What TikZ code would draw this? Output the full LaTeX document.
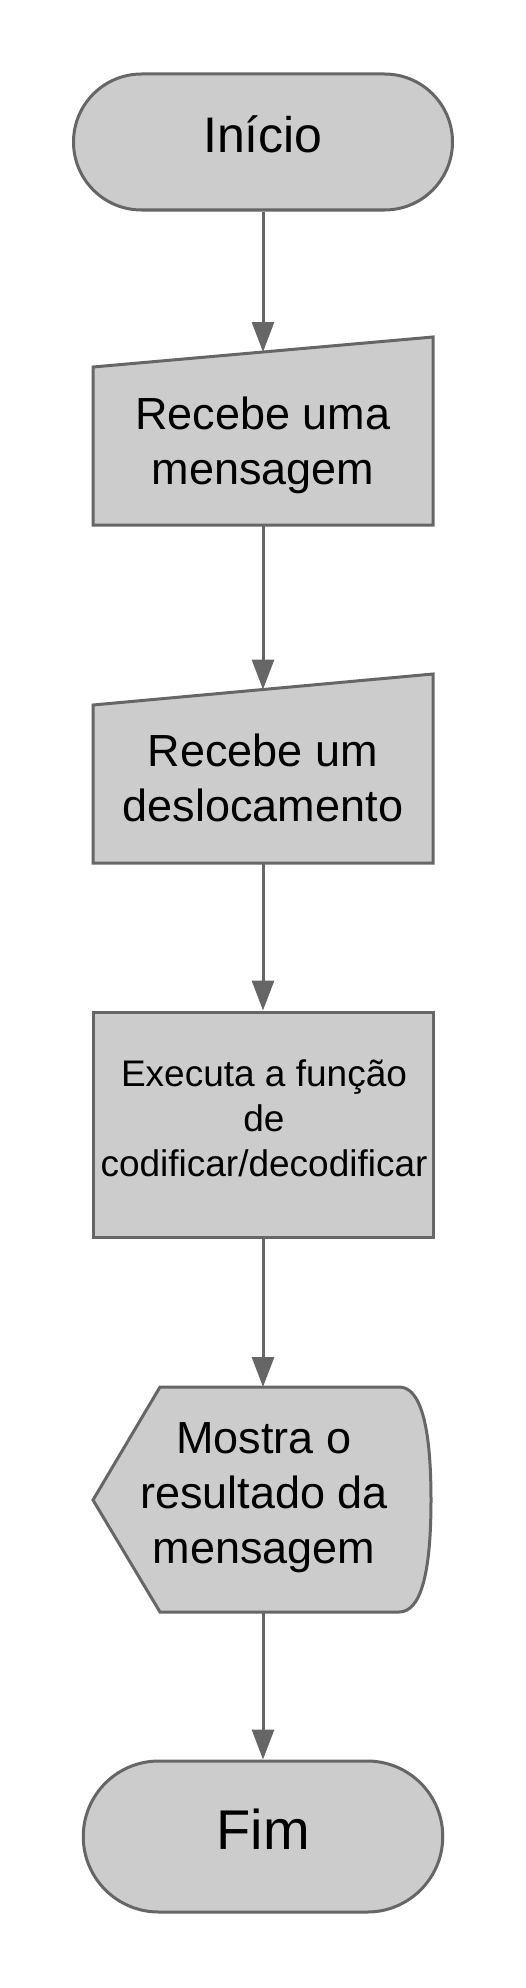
\documentclass[tikz,border=0pt]{standalone}
\usepackage{fontspec}
\setmainfont{Liberation Sans}
\usetikzlibrary{arrows.meta,shapes.misc}
\definecolor{lc}{HTML}{666666}
\definecolor{fc}{HTML}{CCCCCC}
\tikzset{
  shapebox/.style={draw=lc, fill=fc, line width=3pt},
  term/.style={shapebox, rounded rectangle, inner sep=0pt},
  txt/.style={align=center, inner sep=0pt, text=black},
  conn/.style={draw=lc, line width=3pt, -{Triangle[length=30pt,width=22pt]}},
}
\begin{document}
\begin{tikzpicture}[x=1pt,y=-1pt]
\path[fill=white,use as bounding box] (0,0) rectangle (525,1988);

% Inicio
\node[term, minimum width=379pt, minimum height=136pt] (start) at (263,142) {};
\node[txt, anchor=base, font=\fontsize{50}{60}\selectfont] (tstart) at (263,153) {Início};

% Manual input 1
\path[shapebox] (93,367) -- (433,337) -- (433,525) -- (93,525) -- cycle;
\coordinate (in1n) at (263,352);
\coordinate (in1s) at (263,525);
\node[txt, anchor=base, font=\fontsize{45}{55}\selectfont] (tin1) at (263,484) {Recebe uma\\mensagem};

% Manual input 2
\path[shapebox] (93,705) -- (433,674) -- (433,863) -- (93,863) -- cycle;
\coordinate (in2n) at (263,689.5);
\coordinate (in2s) at (263,863);
\node[txt, anchor=base, font=\fontsize{45}{55}\selectfont] (tin2) at (263,821) {Recebe um\\deslocamento};

% Process
\node[shapebox, rectangle, inner sep=0pt, minimum width=340pt, minimum height=225pt] (proc) at (263,1124.5) {};
\node[txt, anchor=base, font=\fontsize{37}{44.7}\selectfont] (tproc) at (264,1176) {Executa a função\\de\\codificar/decodificar};

% Display
\path[shapebox] (93,1500) -- (160,1387) -- (399,1387)
  .. controls (420.3,1387) and (431,1424.7) .. (431,1500)
  .. controls (431,1575.3) and (420.3,1612) .. (399,1612)
  -- (160,1612) -- cycle;
\coordinate (dispn) at (263,1387);
\coordinate (disps) at (263,1612);
\node[txt, anchor=base, font=\fontsize{45}{55}\selectfont] (tdisp) at (264,1563.5) {Mostra o\\resultado da\\mensagem};

% Fim
\node[term, minimum width=359.5pt, minimum height=151pt] (end) at (263,1836.5) {};
\node[txt, anchor=base, font=\fontsize{56}{67}\selectfont] (tend) at (263,1849) {Fim};

% Connectors
\draw[conn] (start) -- (in1n);
\draw[conn] (in1s) -- (in2n);
\draw[conn] (in2s) -- (proc);
\draw[conn] (proc) -- (dispn);
\draw[conn] (disps) -- (end);
\end{tikzpicture}
\end{document}
